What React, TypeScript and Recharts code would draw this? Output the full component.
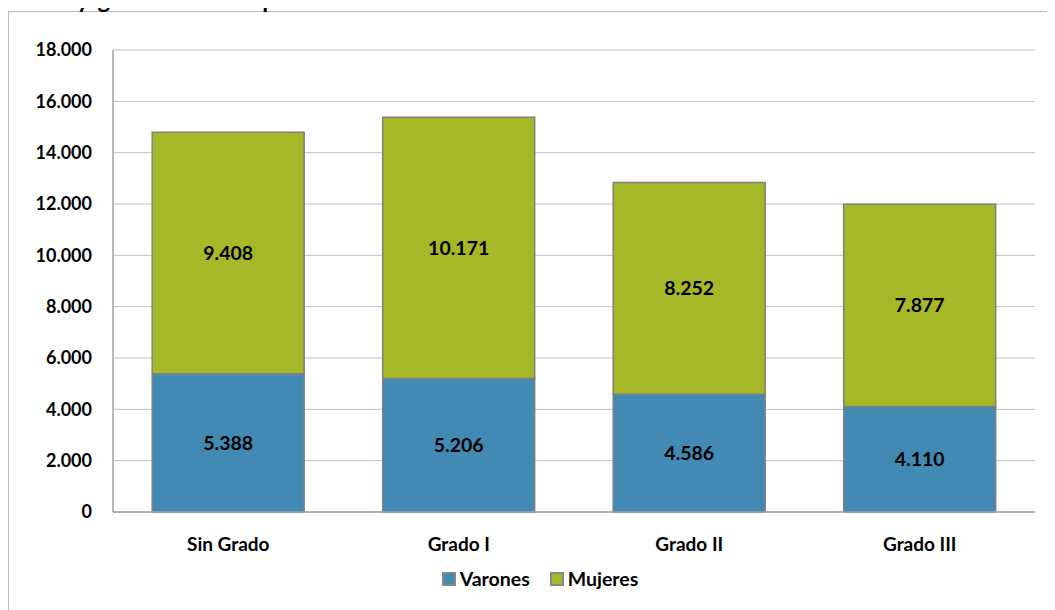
import React from 'react';
import { BarChart, Bar, XAxis, YAxis, CartesianGrid, Legend, LabelList } from 'recharts';

const categories = ['Sin Grado', 'Grado I', 'Grado II', 'Grado III'];
const varones = [5388, 5206, 4586, 4110];
const mujeres = [9408, 10171, 8252, 7877];
const yTicks = [0, 2000, 4000, 6000, 8000, 10000, 12000, 14000, 16000, 18000];

const data = categories.map((name, i) => ({ name, Varones: varones[i], Mujeres: mujeres[i] }));

const BLUE = '#428AB4';
const GREEN = '#A5B827';
const FONT = 'Lato, "Open Sans", sans-serif';

const fmt = (v: number) => String(v).replace(/\B(?=(\d{3})+(?!\d))/g, '.');

function LegendContent() {
  const items = [
    { label: 'Varones', color: BLUE },
    { label: 'Mujeres', color: GREEN },
  ];
  return (
    <div style={{ display: 'flex', justifyContent: 'center', alignItems: 'center', gap: 20, fontFamily: FONT, fontWeight: 700, fontSize: 19.5, color: '#000' }}>
      {items.map(it => (
        <div key={it.label} style={{ display: 'flex', alignItems: 'center' }}>
          <span style={{ width: 10, height: 10, background: it.color, border: '2px solid #888', marginRight: 4, display: 'inline-block' }} />
          {it.label}
        </div>
      ))}
    </div>
  );
}

export default function App() {
  return (
    <div style={{ position: 'relative', width: 1046, height: 599, marginTop: 3, borderLeft: '1px solid #bbb', borderTop: '1px solid #bbb' }}>
      <style>{'body{overflow:hidden}'}</style>
      {/* title sits above the page edge, only descenders show */}
      <div style={{ position: 'absolute', left: 11, top: -25, fontFamily: FONT, fontWeight: 700, fontSize: 24, color: '#000', whiteSpace: 'nowrap', lineHeight: '24px', zIndex: 2 }}>
        <span>Sexo y</span>
        <span style={{ marginLeft: 8 }}>grado</span>
        <span style={{ marginLeft: 45 }}>de dependencia</span>
      </div>
      <BarChart width={1046} height={598} data={data} margin={{ top: 38, right: 20, bottom: 0, left: 0 }} barCategoryGap="17%">
        <CartesianGrid vertical={false} stroke="#c0c0c0" />
        <XAxis
          dataKey="name"
          height={98}
          tickLine={false}
          tickSize={0}
          tickMargin={26}
          axisLine={{ stroke: '#a0a0a0', strokeWidth: 1.5 }}
          tick={{ fill: '#000', fontSize: 19, fontWeight: 700, fontFamily: FONT }}
        />
        <YAxis
          width={104}
          domain={[0, 18000]}
          ticks={yTicks}
          interval={0}
          tickLine={false}
          tickSize={0}
          tickMargin={21}
          axisLine={{ stroke: '#a0a0a0', strokeWidth: 1.5 }}
          tickFormatter={fmt}
          tick={{ fill: '#000', fontSize: 18, fontWeight: 700, fontFamily: FONT }}
        />
        <Legend
          verticalAlign="middle"
          layout="horizontal"
          content={<LegendContent />}
          wrapperStyle={{ top: 555, left: 0, width: 1062 }}
        />
        <Bar dataKey="Varones" stackId="a" fill={BLUE} stroke="#808080" strokeWidth={1.5} isAnimationActive={false}>
          <LabelList dataKey="Varones" position="center" formatter={(v: any) => fmt(v)} style={{ fill: '#000', fontSize: 19.5, fontWeight: 700, fontFamily: FONT }} />
        </Bar>
        <Bar dataKey="Mujeres" stackId="a" fill={GREEN} stroke="#808080" strokeWidth={1.5} isAnimationActive={false}>
          <LabelList dataKey="Mujeres" position="center" formatter={(v: any) => fmt(v)} style={{ fill: '#000', fontSize: 19.5, fontWeight: 700, fontFamily: FONT }} />
        </Bar>
      </BarChart>
    </div>
  );
}
